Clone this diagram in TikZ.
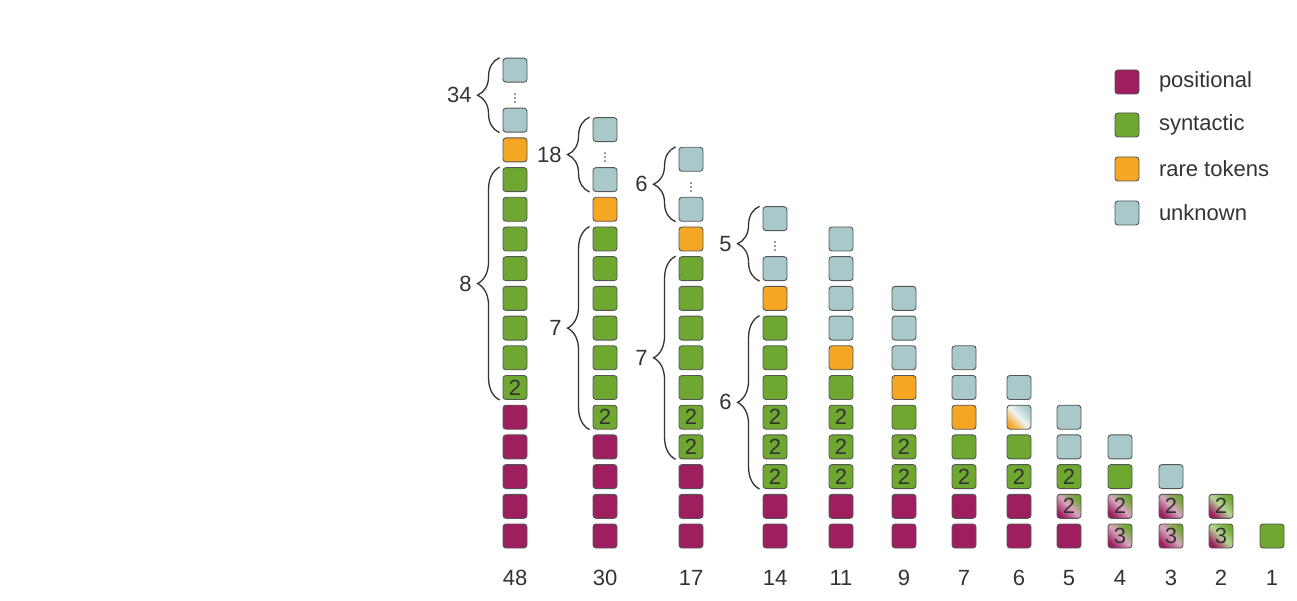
\documentclass[tikz,border=0pt]{standalone}
\usepackage{fontspec}
\setmainfont{Liberation Sans}
\usetikzlibrary{positioning,decorations.pathreplacing}

\definecolor{posc}{RGB}{158,30,95}
\definecolor{sync}{RGB}{110,168,48}
\definecolor{rarec}{RGB}{245,166,35}
\definecolor{unkc}{RGB}{168,200,201}
\definecolor{bordc}{RGB}{85,85,85}

\begin{document}
\begin{tikzpicture}[x=1pt,y=1pt,
    txt/.style={font=\fontsize{22}{26}\selectfont, text=black!80},
    sq/.style={txt, draw=bordc, line width=0.9pt, rounded corners=3pt, minimum size=24pt, inner sep=0pt},
    possq/.style={fill=posc},
    synsq/.style={fill=sync},
    raresq/.style={fill=rarec},
    unksq/.style={fill=unkc},
    mixsq/.style={bottom color=posc, top color=sync, middle color=posc!40!white, shading angle=-45},
    mixgsq/.style={bottom color=posc, top color=sync, middle color=sync!50!white, shading angle=-45},
    mixrsq/.style={bottom color=rarec, top color=unkc, middle color=white!80!unkc, shading angle=-45},
    brc/.style={decorate, decoration={brace, amplitude=22pt}, draw=black!80, line width=1.3pt},
    vdts/.style={font=\fontsize{16}{16}\selectfont, text=black!60, inner sep=0pt}]
  \useasboundingbox (0,0) rectangle (1297,600);

  % column 48
  \foreach \s/\t [count=\i from 0] in {possq/{},possq/{},possq/{},possq/{},possq/{},synsq/2,synsq/{},synsq/{},synsq/{},synsq/{},synsq/{},synsq/{},synsq/{},raresq/{},unksq/{}}
    \node[sq,\s] (c48-\i) at (515,{64+29.7*\i}) {\t};
  \node[vdts] (c48-dots) at (515,{64+29.7*14+25}) {$\vdots$};
  \node[sq,unksq] (c48-top) at (515,{64+29.7*14+50}) {};
  \draw[brc] ([xshift=-3pt]c48-5.south west) -- ([xshift=-3pt]c48-12.north west) node[midway, left=24pt, txt] {8};
  \draw[brc] ([xshift=-3pt]c48-14.south west) -- ([xshift=-3pt]c48-top.north west) node[midway, left=24pt, txt] {34};
  \node[txt] (l48) at (515,22) {48};

  % column 30
  \foreach \s/\t [count=\i from 0] in {possq/{},possq/{},possq/{},possq/{},synsq/2,synsq/{},synsq/{},synsq/{},synsq/{},synsq/{},synsq/{},raresq/{},unksq/{}}
    \node[sq,\s] (c30-\i) at (605,{64+29.7*\i}) {\t};
  \node[vdts] (c30-dots) at (605,{64+29.7*12+25}) {$\vdots$};
  \node[sq,unksq] (c30-top) at (605,{64+29.7*12+50}) {};
  \draw[brc] ([xshift=-3pt]c30-4.south west) -- ([xshift=-3pt]c30-10.north west) node[midway, left=24pt, txt] {7};
  \draw[brc] ([xshift=-3pt]c30-12.south west) -- ([xshift=-3pt]c30-top.north west) node[midway, left=24pt, txt] {18};
  \node[txt] (l30) at (605,22) {30};

  % column 17
  \foreach \s/\t [count=\i from 0] in {possq/{},possq/{},possq/{},synsq/2,synsq/2,synsq/{},synsq/{},synsq/{},synsq/{},synsq/{},raresq/{},unksq/{}}
    \node[sq,\s] (c17-\i) at (691,{64+29.7*\i}) {\t};
  \node[vdts] (c17-dots) at (691,{64+29.7*11+25}) {$\vdots$};
  \node[sq,unksq] (c17-top) at (691,{64+29.7*11+50}) {};
  \draw[brc] ([xshift=-3pt]c17-3.south west) -- ([xshift=-3pt]c17-9.north west) node[midway, left=24pt, txt] {7};
  \draw[brc] ([xshift=-3pt]c17-11.south west) -- ([xshift=-3pt]c17-top.north west) node[midway, left=24pt, txt] {6};
  \node[txt] (l17) at (691,22) {17};

  % column 14
  \foreach \s/\t [count=\i from 0] in {possq/{},possq/{},synsq/2,synsq/2,synsq/2,synsq/{},synsq/{},synsq/{},raresq/{},unksq/{}}
    \node[sq,\s] (c14-\i) at (775,{64+29.7*\i}) {\t};
  \node[vdts] (c14-dots) at (775,{64+29.7*9+25}) {$\vdots$};
  \node[sq,unksq] (c14-top) at (775,{64+29.7*9+50}) {};
  \draw[brc] ([xshift=-3pt]c14-2.south west) -- ([xshift=-3pt]c14-7.north west) node[midway, left=24pt, txt] {6};
  \draw[brc] ([xshift=-3pt]c14-9.south west) -- ([xshift=-3pt]c14-top.north west) node[midway, left=24pt, txt] {5};
  \node[txt] (l14) at (775,22) {14};

  % columns 11 .. 1
  \foreach \s/\t [count=\i from 0] in {possq/{},possq/{},synsq/2,synsq/2,synsq/2,synsq/{},raresq/{},unksq/{},unksq/{},unksq/{},unksq/{}}
    \node[sq,\s] (c11-\i) at (841,{64+29.7*\i}) {\t};
  \node[txt] (l11) at (841,22) {11};

  \foreach \s/\t [count=\i from 0] in {possq/{},possq/{},synsq/2,synsq/2,synsq/{},raresq/{},unksq/{},unksq/{},unksq/{}}
    \node[sq,\s] (c9-\i) at (904,{64+29.7*\i}) {\t};
  \node[txt] (l9) at (904,22) {9};

  \foreach \s/\t [count=\i from 0] in {possq/{},possq/{},synsq/2,synsq/{},raresq/{},unksq/{},unksq/{}}
    \node[sq,\s] (c7-\i) at (964,{64+29.7*\i}) {\t};
  \node[txt] (l7) at (964,22) {7};

  \foreach \s/\t [count=\i from 0] in {possq/{},possq/{},synsq/2,synsq/{},mixrsq/{},unksq/{}}
    \node[sq,\s] (c6-\i) at (1019,{64+29.7*\i}) {\t};
  \node[txt] (l6) at (1019,22) {6};

  \foreach \s/\t [count=\i from 0] in {possq/{},mixsq/2,synsq/2,unksq/{},unksq/{}}
    \node[sq,\s] (c5-\i) at (1069,{64+29.7*\i}) {\t};
  \node[txt] (l5) at (1069,22) {5};

  \foreach \s/\t [count=\i from 0] in {mixsq/3,mixsq/2,synsq/{},unksq/{}}
    \node[sq,\s] (c4-\i) at (1120,{64+29.7*\i}) {\t};
  \node[txt] (l4) at (1120,22) {4};

  \foreach \s/\t [count=\i from 0] in {mixsq/3,mixsq/2,unksq/{}}
    \node[sq,\s] (c3-\i) at (1171,{64+29.7*\i}) {\t};
  \node[txt] (l3) at (1171,22) {3};

  \foreach \s/\t [count=\i from 0] in {mixgsq/3,mixgsq/2}
    \node[sq,\s] (c2-\i) at (1221,{64+29.7*\i}) {\t};
  \node[txt] (l2) at (1221,22) {2};

  \node[sq,synsq] (c1-0) at (1272,64) {};
  \node[txt] (l1) at (1272,22) {1};

  % legend
  \node[sq,possq] (leg-pos) at (1127,518) {};
  \node[txt, right=16pt of leg-pos] {positional};
  \node[sq,synsq] (leg-syn) at (1127,475) {};
  \node[txt, right=16pt of leg-syn] {syntactic};
  \node[sq,raresq] (leg-rare) at (1127,431) {};
  \node[txt, right=16pt of leg-rare] {rare tokens};
  \node[sq,unksq] (leg-unk) at (1127,387) {};
  \node[txt, right=16pt of leg-unk] {unknown};
\end{tikzpicture}
\end{document}
